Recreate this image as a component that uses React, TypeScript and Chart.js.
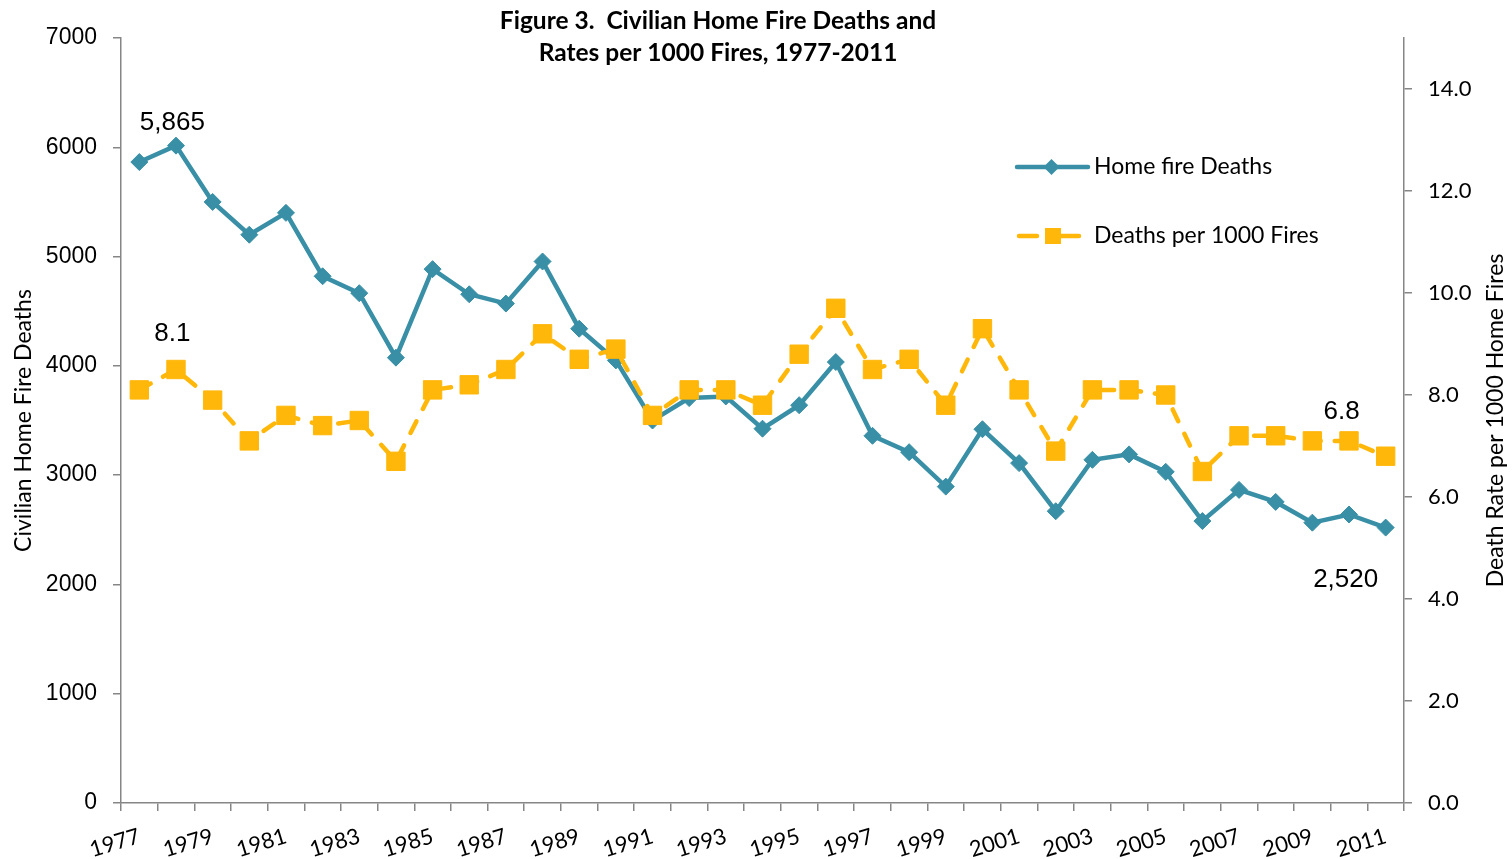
import React, { useEffect, useRef } from 'react';
import { Chart, registerables } from 'chart.js';

Chart.register(...registerables);

const years = ['1977','1978','1979','1980','1981','1982','1983','1984','1985','1986','1987','1988','1989','1990','1991','1992','1993','1994','1995','1996','1997','1998','1999','2000','2001','2002','2003','2004','2005','2006','2007','2008','2009','2010','2011'];

const homeFireDeaths = [5865, 6015, 5500, 5200, 5400, 4820, 4665, 4075, 4885, 4655, 4570, 4955, 4340, 4050, 3500, 3705, 3720, 3425, 3640, 4035, 3360, 3210, 2895, 3420, 3110, 2670, 3140, 3190, 3030, 2580, 2865, 2755, 2565, 2640, 2520];

const deathsPer1000 = [8.1, 8.5, 7.9, 7.1, 7.6, 7.4, 7.5, 6.7, 8.1, 8.2, 8.5, 9.2, 8.7, 8.9, 7.6, 8.1, 8.1, 7.8, 8.8, 9.7, 8.5, 8.7, 7.8, 9.3, 8.1, 6.9, 8.1, 8.1, 8.0, 6.5, 7.2, 7.2, 7.1, 7.1, 6.8];

const leftTicks = [0, 1000, 2000, 3000, 4000, 5000, 6000, 7000];
const rightTicks = [0, 2, 4, 6, 8, 10, 12, 14];

const titleLines = ['Figure 3.  Civilian Home Fire Deaths and', 'Rates per 1000 Fires, 1977-2011'];
const leftTitle = 'Civilian Home Fire Deaths';
const rightTitle = 'Death Rate per 1000 Home Fires';
const seriesNames = ['Home fire Deaths', 'Deaths per 1000 Fires'];

const BLUE = '#388FA6';
const ORANGE = '#FFB70A';
const AXIS = '#868686';
const SANS = 'Lato, "Open Sans", sans-serif';
const ARIAL = '"Liberation Sans", Arial, sans-serif';

const overlayPlugin = {
  id: 'overlay',
  afterDraw(chart: any) {
    const ctx = chart.ctx;
    const ca = chart.chartArea;
    const x = chart.scales.x;
    const yL = chart.scales.y;
    const yR = chart.scales.y1;
    ctx.save();
    // Title
    ctx.fillStyle = '#000';
    ctx.font = `bold 24.5px ${SANS}`;
    ctx.textAlign = 'center';
    ctx.textBaseline = 'middle';
    ctx.fillText(titleLines[0], 718, 21);
    ctx.fillText(titleLines[1], 718, 53);

    // Axis titles
    ctx.font = `23px ${SANS}`;
    ctx.save();
    ctx.translate(24, (ca.top + ca.bottom) / 2);
    ctx.rotate(-Math.PI / 2);
    ctx.fillText(leftTitle, 0, 0);
    ctx.restore();
    ctx.save();
    ctx.translate(1496, (ca.top + ca.bottom) / 2);
    ctx.rotate(-Math.PI / 2);
    ctx.fillText(rightTitle, 0, 0);
    ctx.restore();

    // Annotations
    ctx.font = `26px ${ARIAL}`;
    const last = years.length - 1;
    ctx.fillText(homeFireDeaths[0].toLocaleString('en-US'), x.getPixelForValue(0) + 33, yL.getPixelForValue(homeFireDeaths[0]) - 39);
    ctx.fillText(deathsPer1000[0].toFixed(1), x.getPixelForValue(0) + 33, yR.getPixelForValue(deathsPer1000[0]) - 56);
    ctx.fillText(deathsPer1000[last].toFixed(1), x.getPixelForValue(last) - 44, yR.getPixelForValue(deathsPer1000[last]) - 44);
    ctx.fillText(homeFireDeaths[last].toLocaleString('en-US'), x.getPixelForValue(last) - 40, yL.getPixelForValue(homeFireDeaths[last]) + 52);

    // Legend
    const lx0 = 1017, lx1 = 1088;
    const ly1 = 167, ly2 = 236;
    ctx.lineCap = 'round';
    ctx.lineWidth = 4.5;
    ctx.strokeStyle = BLUE;
    ctx.beginPath();
    ctx.moveTo(lx0, ly1);
    ctx.lineTo(lx1, ly1);
    ctx.stroke();
    ctx.fillStyle = BLUE;
    const cx = (lx0 + lx1) / 2 - 1;
    ctx.beginPath();
    ctx.moveTo(cx, ly1 - 8);
    ctx.lineTo(cx + 8, ly1);
    ctx.lineTo(cx, ly1 + 8);
    ctx.lineTo(cx - 8, ly1);
    ctx.closePath();
    ctx.fill();

    ctx.strokeStyle = ORANGE;
    ctx.beginPath();
    ctx.moveTo(lx0 + 2, ly2);
    ctx.lineTo(lx0 + 20, ly2);
    ctx.moveTo(lx0 + 44, ly2);
    ctx.lineTo(lx0 + 62, ly2);
    ctx.stroke();
    ctx.fillStyle = ORANGE;
    ctx.fillRect(1045, ly2 - 8, 16, 16);

    ctx.fillStyle = '#000';
    ctx.font = `23px ${SANS}`;
    ctx.textAlign = 'left';
    ctx.fillText(seriesNames[0], 1094, ly1);
    ctx.fillText(seriesNames[1], 1094, ly2);
    ctx.restore();
  },
};

export default function App() {
  const ref = useRef<HTMLCanvasElement>(null);
  useEffect(() => {
    if (!ref.current) return;
    const chart = new Chart(ref.current, {
      type: 'line',
      data: {
        labels: years,
        datasets: [
          {
            label: seriesNames[0],
            data: homeFireDeaths,
            yAxisID: 'y',
            borderColor: BLUE,
            backgroundColor: BLUE,
            borderWidth: 4.5,
            pointStyle: 'rectRot',
            pointRadius: 8.5,
            pointBorderWidth: 1,
            pointBorderColor: BLUE,
            pointBackgroundColor: BLUE,
            tension: 0,
            order: 1,
          },
          {
            label: seriesNames[1],
            data: deathsPer1000,
            yAxisID: 'y1',
            borderColor: ORANGE,
            backgroundColor: ORANGE,
            borderWidth: 4.5,
            borderDash: [13, 14],
            borderCapStyle: 'round',
            pointStyle: 'rect',
            pointRadius: 13,
            pointBorderWidth: 1,
            pointBorderColor: ORANGE,
            pointBackgroundColor: ORANGE,
            tension: 0,
            order: 0,
          },
        ],
      },
      options: {
        animation: false,
        responsive: false,
        layout: { padding: { top: 38, left: 0, right: 0, bottom: 0 } },
        plugins: {
          legend: { display: false },
          title: { display: false },
          tooltip: { enabled: false },
        },
        scales: {
          x: {
            type: 'category',
            offset: true,
            grid: { offset: true, drawOnChartArea: false, tickLength: 8, color: AXIS, lineWidth: 1.5 },
            border: { color: AXIS, width: 1.5 },
            ticks: {
              autoSkip: false,
              maxRotation: 17,
              minRotation: 17,
              padding: 12,
              color: '#000',
              font: { family: SANS, size: 22 },
              callback: (_v: any, i: number) => (i % 2 === 0 ? years[i] : ''),
            },
            afterFit: (s: any) => { s.height = 56; },
          },
          y: {
            type: 'linear',
            position: 'left',
            min: leftTicks[0],
            max: leftTicks[leftTicks.length - 1],
            grid: { drawOnChartArea: false, tickLength: 8, color: AXIS, lineWidth: 1.5 },
            border: { color: AXIS, width: 1.5 },
            ticks: {
              stepSize: 1000,
              padding: 16,
              color: '#000',
              font: { family: ARIAL, size: 23 },
              callback: (v: any) => String(v),
            },
            afterBuildTicks: (s: any) => { s.ticks = leftTicks.map((v) => ({ value: v })); },
            afterFit: (s: any) => { s.width = 121; },
          },
          y1: {
            type: 'linear',
            position: 'right',
            min: 0,
            max: 15,
            grid: { drawOnChartArea: false, tickLength: 8, color: AXIS, lineWidth: 1.5 },
            border: { color: AXIS, width: 1.5 },
            ticks: {
              stepSize: 2,
              padding: 16,
              color: '#000',
              font: { family: SANS, size: 22 },
              callback: (v: any) => Number(v).toFixed(1),
            },
            afterBuildTicks: (s: any) => { s.ticks = rightTicks.map((v) => ({ value: v })); },
            afterFit: (s: any) => { s.width = 108; },
          },
        },
      } as any,
      plugins: [overlayPlugin],
    });
    return () => chart.destroy();
  }, []);

  return (
    <div style={{ position: 'absolute', left: 0, top: 0, width: 1512, height: 859, background: '#fff' }}>
      <canvas ref={ref} width={1512} height={859} style={{ display: 'block' }} />
    </div>
  );
}
